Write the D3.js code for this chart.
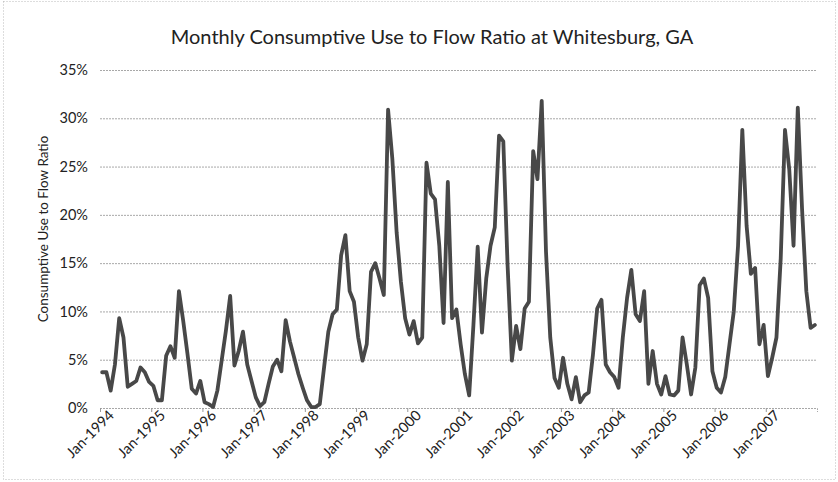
<!DOCTYPE html>
<html>
    <head>
        <meta charset="utf-8">
        <script src="https://cdn.jsdelivr.net/npm/d3@7"></script>
        <style>
            body { margin: 0; background: #fff; }
            text { font-family: Lato, "Open Sans", sans-serif; fill: #222; }
        </style>
    </head>
    <body>
        <div id="chart"></div>
    </body>
    <script type="text/JavaScript">
            // monthly ratio in %, Jan-1994 .. Dec-2007 (read off the scanned chart)
            let years = [1994,1995,1996,1997,1998,1999,2000,2001,2002,2003,2004,2005,2006,2007];
            let ratio1994_1997 = [
                3.7, 3.7, 1.8, 4.5, 9.3, 7.3, 2.2, 2.5, 2.8, 4.2, 3.7, 2.7,
                2.3, 0.8, 0.8, 5.4, 6.4, 5.2, 12.1, 9.0, 5.6, 2.0, 1.5, 2.8,
                0.6, 0.4, 0.1, 1.8, 4.9, 8.0, 11.6, 4.4, 5.9, 7.9, 4.5, 2.8,
                1.1, 0.2, 0.6, 2.5, 4.3, 5.0, 3.8, 9.1, 6.9, 5.2, 3.5, 2.1
            ];
            let ratio1998_2001 = [
                0.8, 0.1, 0.1, 0.4, 4.2, 7.9, 9.7, 10.2, 15.8, 17.9, 12.1, 11.0,
                7.3, 4.9, 6.6, 14.1, 15.0, 13.4, 11.7, 30.9, 25.8, 18.2, 13.1, 9.3,
                7.6, 9.0, 6.7, 7.3, 25.4, 22.2, 21.6, 16.8, 8.8, 23.4, 9.3, 10.2,
                6.6, 3.5, 1.3, 8.6, 16.7, 7.8, 13.4, 16.8, 18.7, 28.2, 27.6, 14.8
            ];
            let ratio2002_2005 = [
                4.9, 8.5, 6.1, 10.3, 11.0, 26.6, 23.7, 31.8, 16.2, 7.3, 3.1, 2.1,
                5.2, 2.5, 0.9, 3.2, 0.6, 1.3, 1.6, 5.5, 10.3, 11.2, 4.5, 3.7,
                3.2, 2.1, 7.3, 11.4, 14.3, 9.7, 9.0, 12.1, 2.5, 5.9, 2.5, 1.4,
                3.3, 1.4, 1.3, 1.8, 7.3, 4.5, 1.4, 4.2, 12.7, 13.4, 11.4, 3.8
            ];
            let ratio2006_2007 = [
                2.1, 1.6, 3.2, 6.6, 10.0, 16.8, 28.8, 18.9, 13.9, 14.5, 6.6, 8.6,
                3.3, 5.2, 7.3, 15.5, 28.8, 24.7, 16.8, 31.1, 20.6, 12.1, 8.3, 8.6
            ];
            let ratio = ratio1994_1997.concat(ratio1998_2001, ratio2002_2005, ratio2006_2007);
            let yTicks = [0, 5, 10, 15, 20, 25, 30, 35];

            let width = 838, height = 482;
            let plotLeft = 100, plotRight = 817, plotTop = 70, plotBottom = 408;

            let svg = d3.select('#chart')
                .append('svg')
                .attr('width', width).attr('height', height);

            // dotted frame of the scanned chart
            svg.append('rect')
                .attr('x', 3.5).attr('y', 1.5)
                .attr('width', width - 6).attr('height', height - 4)
                .attr('fill', 'none')
                .attr('stroke', '#bbb')
                .attr('stroke-dasharray', '1,2');

            let x = d3.scaleLinear().domain([0, ratio.length]).range([plotLeft, plotRight]);
            let y = d3.scaleLinear().domain([0, 35]).range([plotBottom, plotTop]);

            svg.append('text')
                .attr('x', 432).attr('y', 44)
                .attr('text-anchor', 'middle')
                .style('font-size', '20px')
                .text('Monthly Consumptive Use to Flow Ratio at Whitesburg, GA');

            // gridlines + y labels
            let yAxis = svg.append('g')
                .attr('transform', `translate(${plotLeft},0)`)
                .call(d3.axisLeft(y).tickValues(yTicks).tickFormat(d => d + '%')
                    .tickSize(-(plotRight - plotLeft)).tickPadding(12));
            yAxis.select('.domain').remove();
            yAxis.selectAll('line')
                .attr('stroke', '#a8a8a8')
                .attr('stroke-dasharray', '2,1');
            yAxis.selectAll('text')
                .style('font-size', '14.5px')
                .style('font-family', 'Lato, "Open Sans", sans-serif')
                .attr('fill', '#222');

            svg.append('text')
                .attr('transform', `translate(48,${(plotTop + plotBottom) / 2 - 10}) rotate(-90)`)
                .attr('text-anchor', 'middle')
                .style('font-size', '13.5px')
                .text('Consumptive Use to Flow Ratio');

            // x axis: one tick every January
            let janIdx = years.map((yr, i) => i * 12);
            let xAxis = svg.append('g')
                .attr('transform', `translate(0,${plotBottom})`)
                .call(d3.axisBottom(x).tickValues(janIdx)
                    .tickFormat((d, i) => 'Jan-' + years[i]).tickSize(4).tickPadding(4));
            xAxis.select('.domain')
                .attr('stroke', '#a8a8a8')
                .attr('stroke-dasharray', '2,1');
            xAxis.selectAll('line').attr('stroke', '#999');
            xAxis.selectAll('text')
                .style('font-size', '14.5px')
                .style('font-family', 'Lato, "Open Sans", sans-serif')
                .attr('fill', '#222')
                .attr('text-anchor', 'end')
                .attr('dx', '0.3em')
                .attr('dy', '0.55em')
                .attr('transform', 'rotate(-45)');

            let line = d3.line()
                .x((d, i) => x(i + 0.5))
                .y(d => y(d));

            svg.append('path')
                .datum(ratio)
                .attr('d', line)
                .attr('fill', 'none')
                .attr('stroke', '#484848')
                .attr('stroke-width', 3.8)
                .attr('stroke-linejoin', 'round')
                .attr('stroke-linecap', 'round');
    </script>
</html>
